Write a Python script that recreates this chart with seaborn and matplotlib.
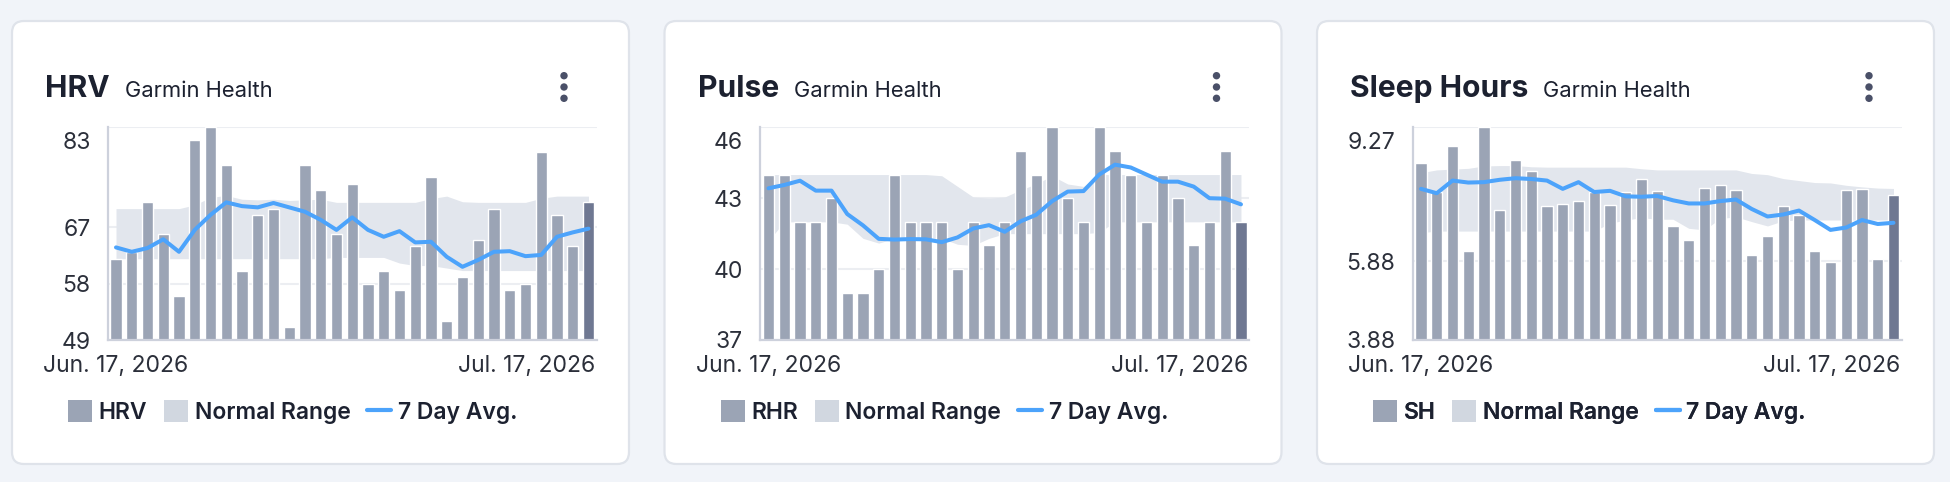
import numpy as np
import pandas as pd
import matplotlib
matplotlib.use("Agg")
import matplotlib.pyplot as plt
import matplotlib.transforms as mtransforms
from matplotlib.patches import FancyBboxPatch, Circle, Patch
from matplotlib.lines import Line2D
import seaborn as sns

# ---------------- data ----------------
day_index = list(range(31))  # Jun 17 .. Jul 17, 2026
x_labels = ["Jun. 17, 2026", "Jul. 17, 2026"]

hrv_values = [62, 63, 71, 66, 56, 81, 83, 77, 60, 69, 70, 51, 77, 73, 66, 74,
              58, 60, 57, 64, 75, 52, 59, 65, 70, 57, 58, 79, 69, 64, 71]
hrv_avg = [63.8, 63.1, 63.7, 65.1, 63.1, 66.6, 69.0, 71.0, 70.4, 70.2, 70.9,
           70.2, 69.5, 68.2, 66.6, 68.6, 66.6, 65.5, 66.4, 64.6, 64.7, 62.3,
           60.7, 61.8, 63.1, 63.2, 62.4, 62.6, 65.5, 66.2, 66.8]
hrv_low = [62.0, 62.0, 62.0, 62.0, 62.0, 62.0, 62.0, 62.0, 62.0, 62.0, 62.0,
           62.0, 62.0, 62.0, 62.2, 62.2, 62.2, 62.2, 61.3, 60.9, 60.9, 60.5,
           60.1, 60.1, 60.1, 60.1, 60.1, 60.1, 60.1, 60.1, 60.1]
hrv_high = [70.0, 70.0, 70.0, 70.0, 70.0, 70.6, 71.8, 72.1, 71.5, 71.4, 71.5,
            71.3, 71.4, 71.5, 71.0, 71.0, 71.0, 71.0, 71.0, 71.0, 71.6, 72.0,
            71.1, 71.0, 71.0, 71.0, 71.0, 71.65, 72.0, 72.0, 72.0]
hrv_ticks = [49, 58, 67, 83]

pulse_values = [44, 44, 42, 42, 43, 39, 39, 40, 44, 42, 42, 42, 40, 42, 41, 42,
                45, 44, 46, 43, 42, 46, 45, 44, 42, 44, 43, 41, 42, 45, 42]
pulse_avg = [43.42, 43.56, 43.74, 43.32, 43.32, 42.33, 41.85, 41.28, 41.25,
             41.27, 41.26, 41.14, 41.34, 41.72, 41.86, 41.58, 42.02, 42.3,
             42.87, 43.28, 43.3, 44.0, 44.42, 44.3, 44.0, 43.7, 43.7, 43.49,
             43.0, 42.98, 42.74]
pulse_low = [41.2, 42.0, 42.0, 42.0, 42.0, 41.9, 41.3, 41.1, 41.3, 41.3, 41.3,
             41.3, 41.05, 41.0, 41.3, 41.5, 41.5, 41.5, 41.5, 41.5, 41.5, 41.55,
             42.0, 42.0, 42.0, 42.0, 42.0, 42.0, 42.0, 42.0, 42.0]
pulse_high = [44.0, 44.0, 44.0, 44.0, 44.0, 44.0, 44.0, 44.0, 44.0, 44.0, 44.0,
              43.95, 43.5, 43.05, 43.0, 43.05, 43.35, 43.6, 43.95, 43.6, 43.5,
              44.0, 44.0, 44.0, 44.0, 44.0, 44.0, 44.0, 44.0, 44.0, 44.0]
pulse_ticks = [37, 40, 43, 46]

sleep_values = [8.37, 7.64, 8.80, 6.14, 9.27, 7.17, 8.45, 8.15, 7.28, 7.33,
                7.39, 7.64, 7.31, 7.62, 7.96, 7.66, 6.77, 6.42, 7.73, 7.80,
                7.69, 6.04, 6.52, 7.27, 7.04, 6.14, 5.86, 7.69, 7.71, 5.92, 7.55]
sleep_avg = [7.71, 7.60, 7.92, 7.87, 7.88, 7.94, 7.98, 7.96, 7.92, 7.71, 7.88,
             7.63, 7.66, 7.52, 7.51, 7.53, 7.42, 7.34, 7.34, 7.40, 7.44, 7.20,
             7.01, 7.06, 7.16, 6.92, 6.67, 6.73, 6.92, 6.82, 6.85]
sleep_low = [6.60, 6.64, 6.64, 6.64, 6.64, 6.64, 6.64, 6.64, 6.64, 6.64, 6.64,
             6.64, 6.84, 6.92, 6.98, 6.94, 6.94, 6.71, 6.67, 6.96, 7.00, 6.88,
             6.77, 6.90, 6.92, 6.92, 6.92, 6.92, 6.92, 6.92, 6.92]
sleep_high = [8.12, 8.19, 8.21, 8.23, 8.29, 8.30, 8.30, 8.27, 8.26, 8.26, 8.26,
              8.26, 8.26, 8.26, 8.22, 8.19, 8.19, 8.19, 8.19, 8.19, 8.19, 8.10,
              8.07, 7.97, 7.92, 7.87, 7.86, 7.80, 7.76, 7.73, 7.72]
sleep_ticks = [3.88, 5.88, 9.27]

panels = [
    dict(title="HRV", short="HRV", values=hrv_values, avg=hrv_avg, low=hrv_low,
         high=hrv_high, ticks=hrv_ticks, fmt="{:.0f}"),
    dict(title="Pulse", short="RHR", values=pulse_values, avg=pulse_avg,
         low=pulse_low, high=pulse_high, ticks=pulse_ticks, fmt="{:.0f}"),
    dict(title="Sleep Hours", short="SH", values=sleep_values, avg=sleep_avg,
         low=sleep_low, high=sleep_high, ticks=sleep_ticks, fmt="{:.2f}"),
]
subtitle = "Garmin Health"

# ---------------- style ----------------
PAGE_BG = "#f1f4f9"
CARD_EDGE = "#dfe3ea"
BAR = "#9ba4b5"
BAR_LAST = "#6f7892"
BAND = "#e2e6ed"
BAND_LEG = "#d1d7e0"
LINE = "#4ca3fb"
TEXT = "#1c2130"
TICK_TEXT = "#2b2f3a"
SPINE = "#cdd1dc"
GRID = "#eceef2"
DOTS = "#4a5068"

sns.set_style("white")
plt.rcParams["font.family"] = ["Inter", "DejaVu Sans"]

W, H = 1950, 482
fig = plt.figure(figsize=(W / 100, H / 100), dpi=100, facecolor=PAGE_BG)
bg = fig.add_axes([0, 0, 1, 1], zorder=0)
bg.set_xlim(0, W)
bg.set_ylim(H, 0)
bg.axis("off")

card_w, card_top, card_h = 617, 21, 443
ax_top, ax_bottom, ax_w = 127.3, 340.0, 489.0

titles = []
for i, p in enumerate(panels):
    cl = 12 + 652.5 * i
    bg.add_patch(FancyBboxPatch((cl, card_top), card_w, card_h,
                                boxstyle="round,pad=0,rounding_size=12",
                                fc="white", ec=CARD_EDGE, lw=1.6))
    # title + menu dots
    t = bg.text(cl + 33, 97.3, p["title"], fontsize=21.6, fontweight="bold",
                color=TEXT, va="baseline", ha="left")
    titles.append((t, cl))
    for yy in (75.7, 87.0, 98.3):
        bg.add_patch(Circle((cl + 552, yy), 3.7, color=DOTS, lw=0))

    # plot axes
    axl = cl + 95.5
    ax = fig.add_axes([axl / W, (H - ax_bottom) / H, ax_w / W,
                       (ax_bottom - ax_top) / H], zorder=2)
    ax.patch.set_alpha(0)
    df = pd.DataFrame({"day": day_index, "value": p["values"]})
    sns.barplot(data=df, x="day", y="value", color=BAR, width=0.72,
                errorbar=None, saturation=1, ax=ax, zorder=2)
    ax.patches[-1].set_facecolor(BAR_LAST)
    ax.fill_between(day_index, p["low"], p["high"], color=BAND, lw=0, zorder=1)
    sns.lineplot(x=day_index, y=p["avg"], ax=ax, color=LINE, lw=2.9, zorder=3)

    ax.set_xlim(-0.54, 30.51)
    ax.set_ylim(p["ticks"][0], p["ticks"][-1])
    ax.set_xlabel("")
    ax.set_ylabel("")
    ax.set_yticks(p["ticks"])
    ax.set_yticklabels([p["fmt"].format(v) for v in p["ticks"]])
    ax.set_xticks([0, 30])
    ax.set_xticklabels(x_labels)
    ax.yaxis.grid(True, color=GRID, lw=1.5)
    ax.set_axisbelow(True)
    for s in ("top", "right"):
        ax.spines[s].set_visible(False)
    for s in ("left", "bottom"):
        ax.spines[s].set_color(SPINE)
        ax.spines[s].set_linewidth(1.6)
    ax.tick_params(axis="y", length=0, pad=12.2, labelsize=16.5,
                   labelcolor=TICK_TEXT)
    ax.tick_params(axis="x", length=8.4, width=1.6, color=SPINE, pad=2.5,
                   labelsize=16.5, labelcolor=TICK_TEXT)
    top_lab = ax.get_yticklabels()[-1]
    top_lab.set_va("top")
    top_lab.set_transform(top_lab.get_transform() +
                          mtransforms.ScaledTranslation(0, -5 / 100, fig.dpi_scale_trans))
    last = ax.get_xticklabels()[-1]
    last.set_ha("right")
    last.set_transform(last.get_transform() +
                       mtransforms.ScaledTranslation(7 / 100, 0, fig.dpi_scale_trans))

    # legend
    handles = [Patch(fc=BAR, lw=0), Patch(fc=BAND_LEG, lw=0),
               Line2D([], [], color=LINE, lw=3)]
    leg = bg.legend(handles, [p["short"], "Normal Range", "7 Day Avg."],
                    loc="center left", bbox_to_anchor=(cl + 56, 412),
                    bbox_transform=bg.transData, ncol=3, frameon=False,
                    handlelength=1.05, handleheight=1.05,
                    handletextpad=0.29, columnspacing=0.73, borderpad=0,
                    borderaxespad=0, prop={"weight": "semibold", "size": 16.5})
    for txt in leg.get_texts():
        txt.set_color(TEXT)
    bg.add_artist(leg)

fig.canvas.draw()
r = fig.canvas.get_renderer()
for t, cl in titles:
    bb = t.get_window_extent(r)
    bg.text(bb.x1 + 15, 97.3, subtitle, fontsize=15.8, color=TEXT,
            va="baseline", ha="left")

fig.savefig("out.png", dpi=100, facecolor=PAGE_BG)
